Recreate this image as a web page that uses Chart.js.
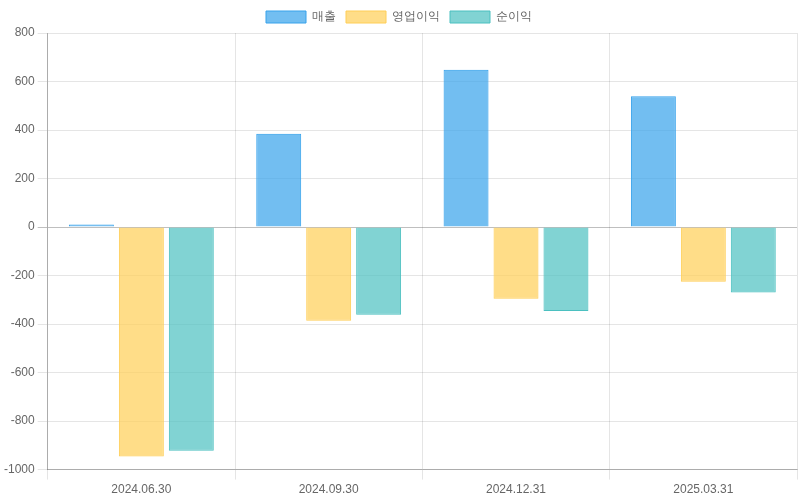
<!DOCTYPE html>
<html>
<head>
<meta charset="utf-8">
<script src="https://cdn.jsdelivr.net/npm/chart.js@4.4.1/dist/chart.umd.min.js"></script>
<style>
  html, body { margin: 0; padding: 0; background: #fff; }
  #wrap { width: 800px; height: 500px; }
</style>
</head>
<body>
<div id="wrap"><canvas id="myChart"></canvas></div>
<script>
const quarters = ["2024.06.30", "2024.09.30", "2024.12.31", "2025.03.31"];
const sales = [10, 385, 649, 539];
const opProfit = [-946, -386, -296, -226];
const netProfit = [-922, -362, -346, -270];

Chart.defaults.font.family = "'Liberation Sans', Arial, sans-serif";
Chart.defaults.font.size = 12;
Chart.defaults.color = "#666";

new Chart("myChart", {
  type: "bar",
  data: {
    labels: quarters,
    datasets: [
      {
        label: "매출",
        data: sales,
        backgroundColor: "rgba(54, 162, 235, 0.7)",
        borderColor: "rgba(54, 162, 235, 1)",
        borderWidth: 1
      },
      {
        label: "영업이익",
        data: opProfit,
        backgroundColor: "rgba(255, 206, 86, 0.7)",
        borderColor: "rgba(255, 206, 86, 1)",
        borderWidth: 1
      },
      {
        label: "순이익",
        data: netProfit,
        backgroundColor: "rgba(75, 192, 192, 0.7)",
        borderColor: "rgba(75, 192, 192, 1)",
        borderWidth: 1
      }
    ]
  },
  options: {
    responsive: true,
    maintainAspectRatio: false,
    animation: false,
    layout: { padding: { top: 1, left: 1, right: 3 } },
    plugins: {
      legend: {
        labels: { boxWidth: 40, boxHeight: 12 }
      }
    },
    scales: {
      x: {
        grid: { color: "rgba(0,0,0,0.1)", tickLength: 10 },
        border: { color: "rgba(0,0,0,0.25)" }
      },
      y: {
        min: -1000,
        max: 800,
        ticks: {
          stepSize: 200,
          callback: function(value) { return String(value); }
        },
        grid: {
          tickLength: 10,
          color: function(ctx) {
            return ctx.tick && ctx.tick.value === 0 ? "rgba(0,0,0,0.25)" : "rgba(0,0,0,0.1)";
          }
        },
        border: { color: "rgba(0,0,0,0.25)" }
      }
    }
  }
});
</script>
</body>
</html>
